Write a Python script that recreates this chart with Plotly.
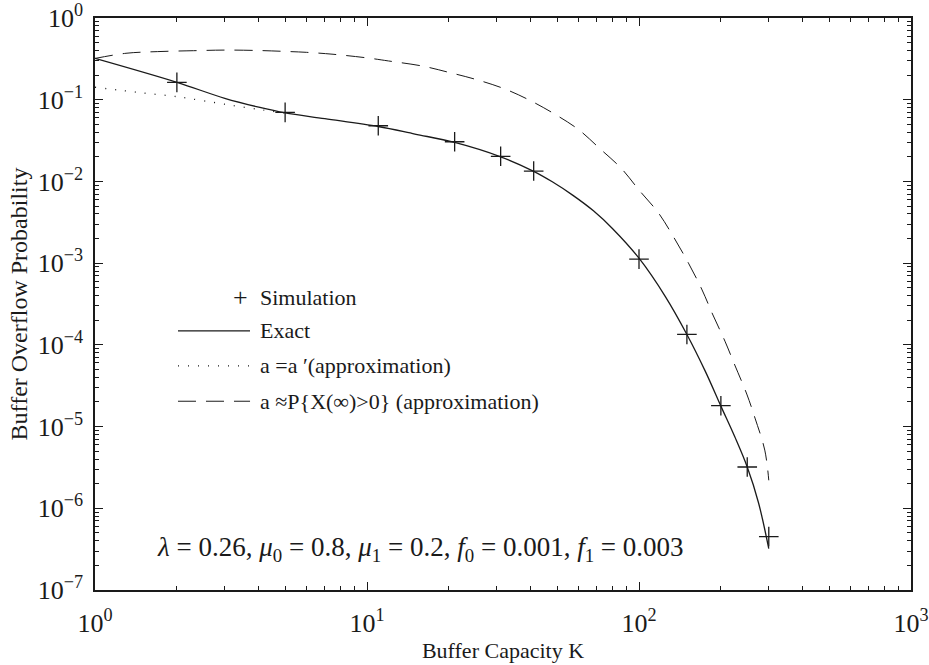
import plotly.graph_objects as go

# Simulated buffer overflow probability
sim_k = [2, 5, 11, 21, 31, 41, 100, 150, 200, 250, 300]
sim_p = [0.163, 0.070, 0.048, 0.0306, 0.0203, 0.0134, 1.12e-3, 1.34e-4, 1.8e-5, 3.2e-6, 4.5e-7]

# Exact solution
exact_k = [1, 2, 3, 4, 5, 7, 11, 15, 21, 31, 41, 48, 57, 68, 80, 100, 125, 150, 175,
           200, 225, 250, 275, 300]
exact_p = [0.32, 0.163, 0.104, 0.081, 0.069, 0.0587, 0.047, 0.038, 0.030, 0.020,
           0.0133, 0.0099, 0.0068, 0.00437, 0.00264, 1.15e-3, 3.9e-4, 1.34e-4, 4.8e-5,
           1.78e-5, 7.5e-6, 3.2e-6, 1.17e-6, 3.2e-7]

# Approximation a = a'
approx1_k = [1, 1.5, 2, 3, 4, 5]
approx1_p = [0.142, 0.121, 0.109, 0.088, 0.076, 0.069]

# Approximation a ~ P{X(inf) > 0}
approx2_k = [1, 1.3, 1.7, 2.3, 3, 4, 5, 6, 7.5, 10, 12, 16, 20, 25, 32, 40, 50, 60,
             72, 86, 100, 118, 134, 152, 170, 187, 207, 225, 249, 267, 290, 300]
approx2_p = [0.32, 0.37, 0.388, 0.398, 0.405, 0.40, 0.39, 0.38, 0.36, 0.325, 0.298,
             0.258, 0.216, 0.178, 0.136, 0.097, 0.064, 0.043, 0.025, 0.0145, 0.00785,
             4.10e-3, 2.09e-3, 1.00e-3, 4.82e-4, 2.32e-4, 1.11e-4, 5.66e-5, 2.50e-5,
             1.27e-5, 5.15e-6, 2.2e-6]

x_ticks = [1, 10, 100, 1000]
x_tick_text = ["10<sup>0</sup>", "10<sup>1</sup>", "10<sup>2</sup>", "10<sup>3</sup>"]
y_ticks = [1e-7, 1e-6, 1e-5, 1e-4, 1e-3, 1e-2, 1e-1, 1]
y_tick_text = ["10<sup>\u22127</sup>", "10<sup>\u22126</sup>", "10<sup>\u22125</sup>",
               "10<sup>\u22124</sup>", "10<sup>\u22123</sup>", "10<sup>\u22122</sup>",
               "10<sup>\u22121</sup>", "10<sup>0</sup>"]

legend_labels = ["Simulation", "Exact", "a =a \u2032(approximation)",
                 "a \u2248P{X(\u221e)>0} (approximation)"]

SERIF = "Liberation Serif, Times New Roman, serif"
BLACK = "#1a1a1a"


def minor_vals(first_exp, last_exp):
    return [m * 10.0 ** e for e in range(first_exp, last_exp) for m in range(2, 10)]


fig = go.Figure()
fig.add_trace(go.Scatter(x=approx2_k, y=approx2_p, mode="lines",
                         line=dict(color=BLACK, width=1, dash="18px,10px", shape="spline", smoothing=1.0)))
fig.add_trace(go.Scatter(x=approx1_k, y=approx1_p, mode="lines",
                         line=dict(color=BLACK, width=1.3, dash="1px,9px", shape="spline", smoothing=0.8)))
fig.add_trace(go.Scatter(x=exact_k, y=exact_p, mode="lines",
                         line=dict(color=BLACK, width=1.3, shape="spline", smoothing=1.0)))
fig.add_trace(go.Scatter(x=sim_k, y=sim_p, mode="markers",
                         marker=dict(symbol="cross-thin", size=14,
                                     line=dict(color=BLACK, width=1.3))))

# Legend drawn inside the axes
x0, x1, xt = 0.1017, 0.19, 0.1998
rows = [0.512, 0.453, 0.392, 0.330]
annotations = []
shapes = []
annotations.append(dict(x=0.1777, y=rows[0], xref="paper", yref="paper", text="+",
                        showarrow=False, font=dict(family=SERIF, size=26, color=BLACK),
                        xanchor="center", yanchor="middle"))
for dash, yy, w in [("solid", rows[1], 1.3), ("1px,9px", rows[2], 1.3), ("18px,10px", rows[3], 1)]:
    shapes.append(dict(type="line", xref="paper", yref="paper", x0=x0, x1=x1, y0=yy, y1=yy,
                       line=dict(color=BLACK, width=w, dash=dash)))
for lbl, yy in zip(legend_labels, rows):
    annotations.append(dict(x=xt, y=yy, xref="paper", yref="paper", text=lbl, showarrow=False,
                            font=dict(family=SERIF, size=22, color=BLACK),
                            xanchor="left", yanchor="middle"))

annotations.append(dict(
    x=0.073, y=0.072, xref="paper", yref="paper", showarrow=False,
    xanchor="left", yanchor="middle",
    text=("<i>\u03bb</i> = 0.26, <i>\u03bc</i><sub>0</sub> = 0.8, <i>\u03bc</i><sub>1</sub> = 0.2, "
          "<i>f</i><sub>0</sub> = 0.001, <i>f</i><sub>1</sub> = 0.003"),
    font=dict(family=SERIF, size=27, color=BLACK)))

axis_common = dict(
    type="log", showgrid=False, zeroline=False, showline=True, linecolor=BLACK, linewidth=1.5,
    mirror="ticks", ticks="inside", ticklen=8, tickwidth=1, tickcolor=BLACK,
    tickfont=dict(family=SERIF, size=26, color=BLACK), automargin=False,
)

fig.update_layout(
    width=929, height=665,
    margin=dict(l=95, r=18, t=18, b=75),
    paper_bgcolor="white", plot_bgcolor="white",
    showlegend=False,
    font=dict(family=SERIF, color=BLACK),
    xaxis=dict(**axis_common, range=[0, 3], tickvals=x_ticks, ticktext=x_tick_text,
               ticklabelstandoff=9,
               minor=dict(tickvals=minor_vals(0, 3), ticks="inside", ticklen=4, tickwidth=1,
                          tickcolor=BLACK, showgrid=False),
               title=dict(text="Buffer Capacity K", font=dict(family=SERIF, size=22, color=BLACK),
                          standoff=6)),
    yaxis=dict(**axis_common, range=[-7, 0], tickvals=y_ticks, ticktext=y_tick_text,
               ticklabelstandoff=5,
               minor=dict(tickvals=minor_vals(-7, 0), ticks="inside", ticklen=4, tickwidth=1,
                          tickcolor=BLACK, showgrid=False),
               title=dict(text="Buffer Overflow Probability", font=dict(family=SERIF, size=24, color=BLACK),
                          standoff=3)),
    shapes=shapes,
    annotations=annotations,
)

fig.write_html("out.html")
